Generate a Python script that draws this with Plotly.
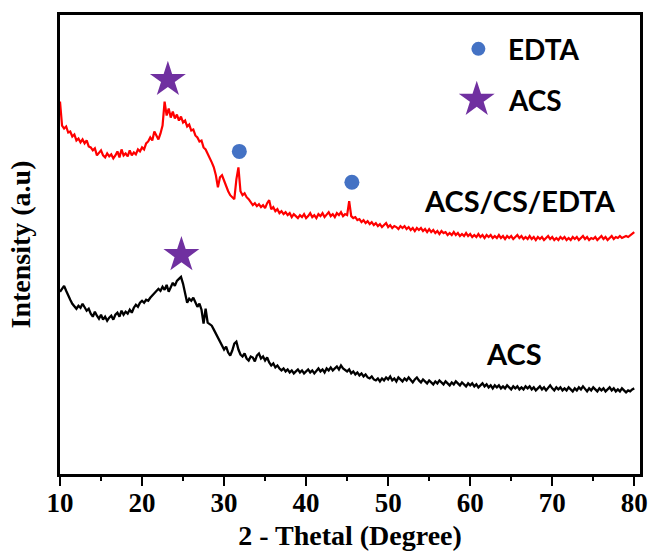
import numpy as np
import plotly.graph_objects as go

# 2-theta grid (degrees), 0.25 deg step
two_theta = np.round(np.arange(10.0, 80.0001, 0.25), 2)

# ACS/CS/EDTA pattern (arbitrary intensity units), one row per degree
acs_cs_edta = [
    374, 350, 347, 349,  343, 344, 339, 341,  335, 337, 333, 336,  332, 335, 329, 328,  # 10-13
    325, 327, 320, 322,  325, 320, 318, 322,  319, 321, 317, 320,  324, 318, 326, 320,  # 14-17
    322, 319, 325, 320,  323, 321, 326, 324,  328, 326, 332, 334,  338, 335, 344, 340,  # 18-21
    336, 342, 350, 374,  360, 367, 358, 364,  357, 361, 355, 359,  353, 355, 349, 351,  # 22-25
    345, 346, 340, 338,  334, 335, 328, 326,  322, 318, 313, 308,  300, 288, 298, 300,  # 26-29
    294, 288, 284, 280,  278, 276, 296, 308,  284, 280, 282, 278,  276, 273, 270, 272,  # 30-33
    269, 271, 268, 270,  267, 272, 275, 266,  268, 264, 266, 262,  264, 261, 263, 260,  # 34-37
    262, 258, 261, 259,  257, 260, 258, 261,  257, 259, 262, 258,  260, 257, 261, 259,  # 38-41
    262, 258, 260, 263,  259, 261, 258, 262,  260, 263, 259, 261,  260, 274, 259, 257,  # 42-45
    258, 255, 256, 253,  255, 252, 254, 251,  253, 250, 252, 249,  251, 248, 250, 252,  # 46-49
    248, 250, 247, 249,  248, 246, 249, 247,  249, 246, 248, 245,  247, 244, 247, 245,  # 50-53
    247, 244, 246, 243,  246, 243, 245, 242,  244, 241, 244, 242,  243, 240, 242, 240,  # 54-57
    243, 240, 242, 239,  241, 239, 242, 239,  241, 238, 240, 238,  241, 238, 240, 237,  # 58-61
    240, 238, 240, 237,  239, 237, 240, 237,  239, 236, 239, 237,  239, 236, 238, 240,  # 62-65
    237, 239, 236, 238,  236, 239, 236, 238,  235, 238, 236, 238,  235, 237, 239, 236,  # 66-69
    238, 235, 237, 235,  238, 236, 238, 235,  237, 235, 238, 236,  238, 235, 237, 239,  # 70-73
    236, 238, 235, 237,  236, 238, 235, 237,  239, 236, 238, 235,  237, 239, 236, 238,  # 74-77
    237, 239, 237, 238,  239, 238, 240, 241,  243,                                      # 78-80
]

# ACS pattern (arbitrary intensity units)
acs = [
    183, 186, 189, 184,  179, 175, 171, 168,  166, 169, 167, 171,  168, 164, 166, 161,  # 10-13
    158, 163, 159, 156,  160, 155, 158, 154,  157, 159, 155, 160,  162, 158, 164, 160,  # 14-17
    163, 161, 165, 162,  167, 170, 168, 172,  174, 172, 175, 174,  177, 179, 181, 183,  # 18-21
    186, 184, 188, 185,  190, 183, 188, 192,  189, 194, 196, 198,  191, 183, 172, 176,  # 22-25
    174, 177, 172, 168,  171, 165, 151, 166,  152, 150, 149, 145,  141, 136, 133, 129,  # 26-29
    125, 128, 122, 119,  124, 131, 133, 125,  120, 118, 121, 116,  114, 118, 117, 113,  # 30-33
    119, 121, 116, 118,  114, 117, 112, 109,  111, 107, 109, 106,  104, 106, 103, 105,  # 34-37
    102, 104, 101, 103,  105, 102, 104, 101,  103, 105, 102, 104,  101, 104, 106, 103,  # 38-41
    105, 102, 106, 104,  107, 104, 106, 108,  105, 109, 106, 104,  103, 105, 101, 103,  # 42-45
    100, 102,  99, 101,   98, 100,  97,  96,   98,  95,  94,  96,   93,  96,  94,  97,  # 46-49
     95,  98,  94,  96,   93,  97,  95,  93,   96,  94,  97,  95,   92,  95,  97,  94,  # 50-53
     92,  95,  93,  91,   94,  92,  90,  93,   91,  94,  92,  90,   93,  91,  89,  92,  # 54-57
     90,  93,  91,  89,   92,  90,  88,  91,   89,  91,  88,  90,   87,  89,  91,  88,  # 58-61
     90,  87,  89,  86,   89,  87,  89,  86,   88,  86,  89,  87,   85,  88,  86,  88,  # 62-65
     85,  87,  85,  88,   86,  88,  85,  87,   84,  86,  88,  85,   87,  84,  86,  89,  # 66-69
     86,  84,  87,  85,   87,  84,  86,  84,   87,  85,  83,  86,   84,  87,  85,  88,  # 70-73
     85,  83,  86,  84,   87,  85,  83,  86,   84,  86,  83,  85,   87,  84,  86,  83,  # 74-77
     85,  83,  86,  84,   82,  84,  83,  85,   86,                                      # 78-80
]

# Peak markers
acs_star_x = [23.15, 24.8]
acs_star_y = [396, 220]
edta_dot_x = [31.86, 45.58]
edta_dot_y = [324, 293]

# Curve labels
curve_labels = ["ACS/CS/EDTA", "ACS"]
curve_label_x = [66.1, 65.4]
curve_label_y = [275, 121]

# Legend entries
legend_names = ["EDTA", "ACS"]
legend_key_x = [61.0, 60.8]
legend_key_y = [427, 376]
legend_text_x = 64.4

STAR = "#7030A0"
DOT = "#4472C4"
SERIF = "Liberation Serif, Times New Roman, serif"
SANS = "Lato, Open Sans, sans-serif"

fig = go.Figure()
fig.add_trace(go.Scatter(x=two_theta, y=acs_cs_edta, mode="lines",
                         line=dict(color="#FF0000", width=2.2), showlegend=False))
fig.add_trace(go.Scatter(x=two_theta, y=acs, mode="lines",
                         line=dict(color="#000000", width=2.3), showlegend=False))
fig.add_trace(go.Scatter(x=acs_star_x, y=acs_star_y, mode="markers",
                         marker=dict(symbol="star", size=27, color=STAR, line=dict(width=0)),
                         showlegend=False))
fig.add_trace(go.Scatter(x=edta_dot_x, y=edta_dot_y, mode="markers",
                         marker=dict(symbol="circle", size=15, color=DOT, line=dict(width=0)),
                         showlegend=False))
# legend keys
fig.add_trace(go.Scatter(x=[legend_key_x[0]], y=[legend_key_y[0]], mode="markers",
                         marker=dict(symbol="circle", size=14, color=DOT, line=dict(width=0)),
                         showlegend=False, hoverinfo="skip"))
fig.add_trace(go.Scatter(x=[legend_key_x[1]], y=[legend_key_y[1]], mode="markers",
                         marker=dict(symbol="star", size=27, color=STAR, line=dict(width=0)),
                         showlegend=False, hoverinfo="skip"))

annotations = []
for t, x, y in zip(curve_labels, curve_label_x, curve_label_y):
    annotations.append(dict(x=x, y=y, xref="x", yref="y", text=t, showarrow=False,
                            font=dict(family=SANS, size=29, color="black", weight="bold"),
                            xanchor="center", yanchor="middle"))
for t, y in zip(legend_names, legend_key_y):
    annotations.append(dict(x=legend_text_x, y=y, xref="x", yref="y", text=t, showarrow=False,
                            font=dict(family=SANS, size=28, color="black", weight="bold"),
                            xanchor="left", yanchor="middle"))

fig.update_layout(
    width=655, height=554,
    margin=dict(l=60, r=7, t=15, b=78),
    plot_bgcolor="white", paper_bgcolor="white",
    annotations=annotations,
    xaxis=dict(
        range=[10, 80.7], tickmode="array", tickvals=[10, 20, 30, 40, 50, 60, 70, 80],
        ticks="outside", ticklen=9, tickwidth=2.2, tickcolor="black",
        ticklabelstandoff=-6,
        minor=dict(tickvals=[15, 25, 35, 45, 55, 65, 75], ticks="outside", ticklen=4,
                   tickwidth=2, tickcolor="black"),
        showline=True, linecolor="black", linewidth=2.5, mirror=True,
        showgrid=False, zeroline=False,
        tickfont=dict(family=SERIF, size=27, color="black", weight="bold"),
        title=dict(text="2 - Thetal (Degree)", standoff=9,
                   font=dict(family=SERIF, size=28, color="black", weight="bold")),
    ),
    yaxis=dict(
        range=[0, 461], showticklabels=False, ticks="",
        showline=True, linecolor="black", linewidth=2.5, mirror=True,
        showgrid=False, zeroline=False,
        title=dict(text="Intensity (a.u)", standoff=19,
                   font=dict(family=SERIF, size=28, color="black", weight="bold")),
    ),
)

fig.write_html("out.html")
